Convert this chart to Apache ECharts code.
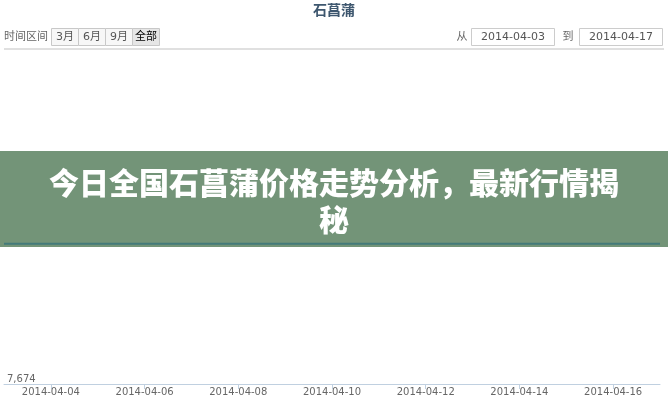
<!DOCTYPE html>
<html><head><meta charset="utf-8">
<script src="https://cdn.jsdelivr.net/npm/echarts@6/dist/echarts.min.js"></script>
<style>html,body{margin:0;padding:0;background:#fff}#c{width:668px;height:400px}</style>
</head><body><div id="c"></div>
<script>
var dates = ['2014-04-03','2014-04-04','2014-04-05','2014-04-06','2014-04-07','2014-04-08','2014-04-09','2014-04-10','2014-04-11','2014-04-12','2014-04-13','2014-04-14','2014-04-15','2014-04-16','2014-04-17'];
var prices = [7758,7758,7758,7758,7758,7758,7758,7758,7758,7758,7758,7758,7758,7758,7758];
var yTicks = [7674];
var rangeButtons = ['3月','6月','9月','全部'];
var fromDate = '2014-04-03', toDate = '2014-04-17';
var chartTitle = '石菖蒲';
var bannerLines = ['今日全国石菖蒲价格走势分析，最新行情揭','秘'];

var chart = echarts.init(document.getElementById('c'));
var font = 'DejaVu Sans, Noto Sans CJK SC, sans-serif';
var g = [];
// toolbar
g.push({type:'text', z:10, style:{text:'时间区间', x:4, y:37, verticalAlign:'middle', font:'11px '+font, fill:'#666'}});
var bx = 51, bw = 27;
rangeButtons.forEach(function(t,i){
  g.push({type:'rect', shape:{x:bx+i*bw+0.5, y:28.5, width:bw, height:17}, z:10,
    style:{fill: i===3 ? '#e6e6e6' : '#f7f7f7', stroke:'#c8c8c8', lineWidth:1}});
  g.push({type:'text', z:11, style:{text:t, x:bx+i*bw+bw/2+0.5, y:37, align:'center', verticalAlign:'middle',
    font:'11px '+font, fill: i===3 ? '#000' : '#555'}});
});
g.push({type:'text', z:10, style:{text:'从', x:462, y:37, align:'center', verticalAlign:'middle', font:'11px '+font, fill:'#666'}});
g.push({type:'rect', shape:{x:471.5, y:28.5, width:83, height:17}, z:10, style:{fill:'#fff', stroke:'#ccc', lineWidth:1}});
g.push({type:'text', z:11, style:{text:fromDate, x:513, y:37, align:'center', verticalAlign:'middle', font:'11px '+font, fill:'#555'}});
g.push({type:'text', z:10, style:{text:'到', x:568, y:37, align:'center', verticalAlign:'middle', font:'11px '+font, fill:'#666'}});
g.push({type:'rect', shape:{x:579.5, y:28.5, width:83, height:17}, z:10, style:{fill:'#fff', stroke:'#ccc', lineWidth:1}});
g.push({type:'text', z:11, style:{text:toDate, x:621, y:37, align:'center', verticalAlign:'middle', font:'11px '+font, fill:'#555'}});
g.push({type:'line', z:10, shape:{x1:4, y1:49, x2:664, y2:49}, style:{stroke:'#e0e0e0', lineWidth:2}});
// banner
g.push({type:'rect', z:0, shape:{x:0, y:151, width:668, height:96}, style:{fill:'#739478'}});
g.push({type:'text', z:50, style:{text:bannerLines[0], x:334, y:183, align:'center', verticalAlign:'middle',
  font:'900 30px "Noto Sans CJK SC", sans-serif', fill:'#fff'}});
g.push({type:'text', z:50, style:{text:bannerLines[1], x:334, y:220, align:'center', verticalAlign:'middle',
  font:'900 30px "Noto Sans CJK SC", sans-serif', fill:'#fff'}});

chart.setOption({
  animation:false,
  title:{text:chartTitle, left:'center', top:-2, textStyle:{fontSize:14, fontWeight:'bold', color:'#3E576F', fontFamily:'Noto Sans CJK SC, sans-serif'}},
  grid:{left:4, right:8, top:50, bottom:16, containLabel:false},
  xAxis:{type:'category', data:dates, boundaryGap:false,
    axisLine:{lineStyle:{color:'#C0D0E0'}},
    axisTick:{show:true, interval:function(i){return i%2===1;}, length:5, lineStyle:{color:'#C0D0E0'}},
    axisLabel:{interval:function(i){return i%2===1;}, color:'#666', fontSize:10, fontFamily:'DejaVu Sans', margin:3},
    splitLine:{show:false}},
  yAxis:{type:'value', min:yTicks[0], max:yTicks[0]+200, interval:200,
    axisLine:{show:false}, axisTick:{show:false}, splitLine:{show:false},
    axisLabel:{inside:true, showMaxLabel:false, verticalAlign:'bottom', align:'left', margin:3, color:'#666', fontSize:10, fontFamily:'DejaVu Sans',
      formatter:function(v){return v.toLocaleString('en-US');}}},
  graphic:g,
  series:[{type:'line', data:prices, symbol:'none', z:5, lineStyle:{color:'#437a7a', width:2}}]
});
</script></body></html>
